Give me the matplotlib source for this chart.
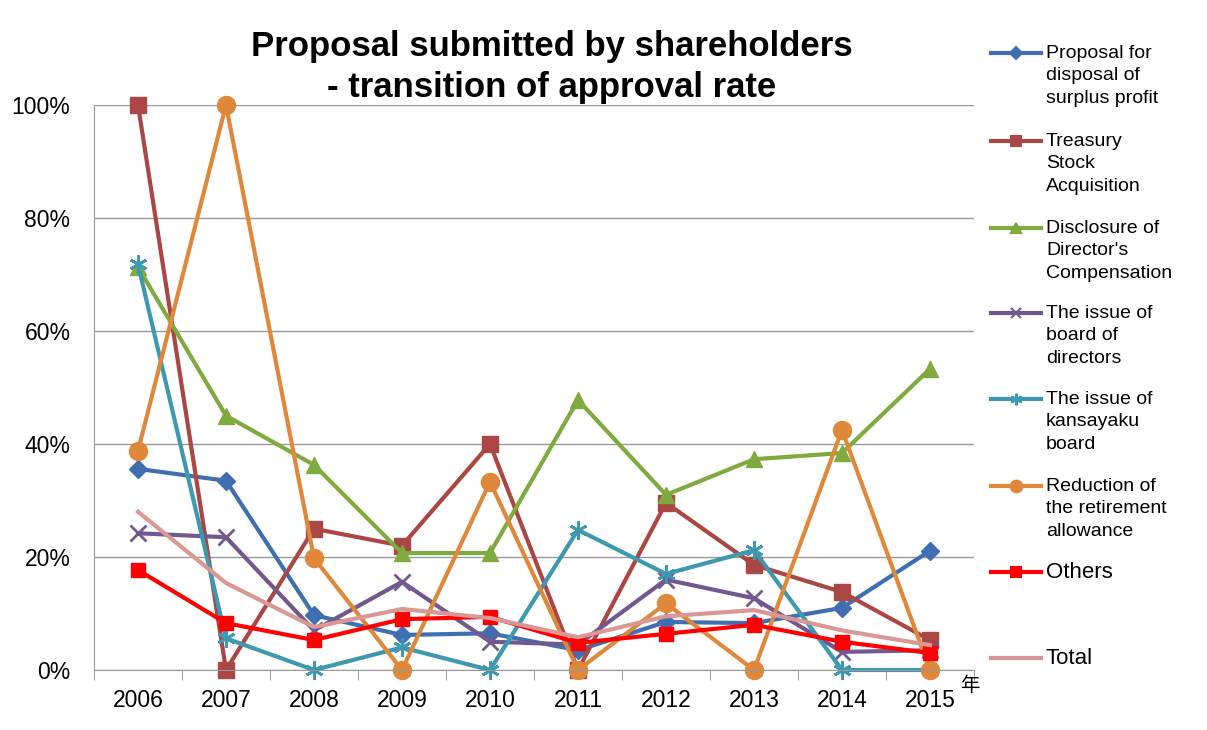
import matplotlib
matplotlib.use("Agg")
import matplotlib.pyplot as plt
from matplotlib.lines import Line2D

plt.rcParams['font.family'] = ['Liberation Sans', 'Noto Sans CJK JP', 'DejaVu Sans']

years = ["2006", "2007", "2008", "2009", "2010", "2011", "2012", "2013", "2014", "2015"]

surplus = [35.6, 33.5, 9.7, 6.2, 6.5, 3.5, 8.5, 8.3, 11.0, 21.1]
treasury = [100, 0, 25.0, 22.0, 40.0, 0, 29.6, 18.6, 13.8, 5.3]
disclosure = [71.3, 45.0, 36.3, 20.7, 20.7, 47.8, 31.0, 37.3, 38.4, 53.3]
board = [24.2, 23.5, 7.0, 15.6, 5.0, 4.5, 16.0, 12.7, 3.2, 3.5]
kansayaku = [71.8, 5.6, 0, 4.0, 0, 24.8, 17.0, 21.2, 0, 0]
retirement = [38.8, 100, 19.8, 0, 33.3, 0, 11.8, 0, 42.5, 0]
others = [17.7, 8.3, 5.3, 9.0, 9.4, 4.8, 6.4, 8.0, 5.0, 3.0]
total = [28.0, 15.4, 7.6, 10.8, 9.2, 5.8, 9.5, 10.6, 7.0, 4.4]

labels = [
    "Proposal for\ndisposal of\nsurplus profit",
    "Treasury\nStock\nAcquisition",
    "Disclosure of\nDirector's\nCompensation",
    "The issue of\nboard of\ndirectors",
    "The issue of\nkansayaku\nboard",
    "Reduction of\nthe retirement\nallowance",
    "Others",
    "Total",
]

series = [surplus, treasury, disclosure, board, kansayaku, retirement, others, total]
colors = ["#3F6FB0", "#AA4643", "#7FAA3F", "#71588F", "#3D98B0", "#E0883A", "#FF0000", "#D99795"]
markers = ["D", "s", "^", "x", (6, 2, 0), "o", "s", None]
msizes = [9, 12, 12, 12, 13, 13, 10, 0]

W, H = 1207, 730
fig = plt.figure(figsize=(W / 100, H / 100), dpi=100)
ax = fig.add_axes([94 / W, 1 - 670 / H, 880 / W, 565 / H])

x = range(len(years))
for vals, c, m, ms in zip(series, colors, markers, msizes):
    ax.plot(x, vals, color=c, lw=3, marker=m, markersize=ms,
            markeredgewidth=2 if m in ("x", (6, 2, 0)) else 1,
            markeredgecolor=c, markerfacecolor=c, clip_on=False)

ax.set_ylim(0, 100)
ax.set_xlim(-0.5, len(years) - 0.5)
ax.set_yticks([0, 20, 40, 60, 80, 100])
ax.set_yticklabels(["0%", "20%", "40%", "60%", "80%", "100%"], fontsize=16.5)
ax.set_xticks(list(x))
ax.set_xticklabels(years, fontsize=16.5)
ax.set_xticks([i - 0.5 for i in range(len(years) + 1)], minor=True)
ax.tick_params(axis="x", which="major", length=0, pad=14)
ax.tick_params(axis="x", which="minor", length=7, color="#888888", direction="out")
ax.tick_params(axis="y", length=0, pad=17)
ax.grid(axis="y", color="#999999", lw=1)
ax.set_axisbelow(True)
for s in ["top", "right"]:
    ax.spines[s].set_visible(False)
ax.spines["left"].set_color("#999999")
ax.spines["bottom"].set_color("#999999")

fig.text(552 / W, 1 - 67 / H, "Proposal submitted by shareholders\n- transition of approval rate",
         ha="center", va="center", fontsize=25, fontweight="bold", linespacing=1.3)
fig.text(960 / W, 1 - 686 / H, "年", fontsize=14, ha="left", va="center")

# legend, drawn by hand to keep Excel-like spacing
leg_y = [53, 141, 228, 313, 399, 486, 572, 658]
for lab, c, m, ms, yp in zip(labels, colors, markers, msizes, leg_y):
    yf = 1 - yp / H
    line = Line2D([991 / W, 1041 / W], [yf, yf], transform=fig.transFigure,
                  color=c, lw=3)
    fig.add_artist(line)
    if m is not None:
        mk = Line2D([1016 / W], [yf], transform=fig.transFigure, color=c,
                    marker=m, markersize=ms * 0.65, markerfacecolor=c, markeredgecolor=c,
                    markeredgewidth=1.5, lw=0)
        fig.add_artist(mk)
    if lab in ("Others", "Total"):
        fig.text(1046 / W, yf, lab, fontsize=16, ha="left", va="center")
    else:
        fig.text(1046 / W, 1 - (yp - 8) / H, lab, fontsize=14, ha="left", va="top",
                 linespacing=1.42)

fig.savefig("out.png", dpi=100)
